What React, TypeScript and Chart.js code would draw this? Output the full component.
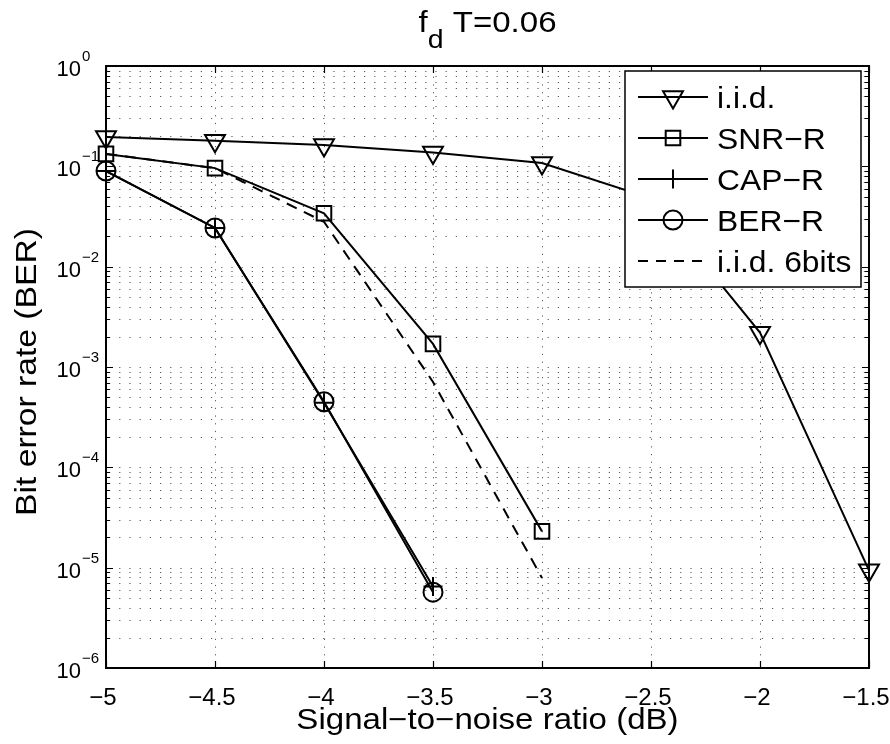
import React, { useEffect, useRef } from 'react';
import { Chart, registerables } from 'chart.js';

Chart.register(...registerables);

// ---------------- data ----------------
const snrIid = [-5, -4.5, -4, -3.5, -3, -2.5, -2, -1.5];
const berIid = [0.196, 0.18, 0.163, 0.137, 0.108, 0.048, 0.0022, 9.4e-6];

const snrSnrR = [-5, -4.5, -4, -3.5, -3];
const berSnrR = [0.133, 0.096, 0.034, 0.0017, 2.3e-5];

const snrCapR = [-5, -4.5, -4, -3.5];
const berCapR = [0.0898, 0.0243, 4.4e-4, 6.5e-6];

const snrBerR = [-5, -4.5, -4, -3.5];
const berBerR = [0.0898, 0.0243, 4.5e-4, 5.7e-6];

const snrIid6 = [-5, -4.5, -4, -3.5, -3];
const berIid6 = [0.133, 0.096, 0.028, 7.1e-4, 7.9e-6];

const seriesNames = ['i.i.d.', 'SNR\u2212R', 'CAP\u2212R', 'BER\u2212R', 'i.i.d. 6bits'];

const xTickValues = [-5, -4.5, -4, -3.5, -3, -2.5, -2, -1.5];
const xTickLabels = ['\u22125', '\u22124.5', '\u22124', '\u22123.5', '\u22123', '\u22122.5', '\u22122', '\u22121.5'];
const yDecadeExponents = [0, -1, -2, -3, -4, -5, -6];

const titleMain = 'f';
const titleSub = 'd';
const titleRest = ' T=0.06';
const xAxisTitle = 'Signal\u2212to\u2212noise ratio (dB)';
const yAxisTitle = 'Bit error rate (BER)';

const X_MIN = -5;
const X_MAX = -1.5;
const Y_MIN = 1e-6;
const Y_MAX = 1;

// --------------- helpers ---------------
const FONT = "'Liberation Sans', Arial, Helvetica, sans-serif";

const pts = (xs: number[], ys: number[]) => xs.map((x, i) => ({ x, y: ys[i] }));

function drawText(
  ctx: CanvasRenderingContext2D,
  text: string,
  x: number,
  y: number,
  size: number,
  align: CanvasTextAlign,
  sx = 1,
  rot = 0
) {
  ctx.save();
  ctx.translate(x, y);
  if (rot) ctx.rotate(rot);
  ctx.scale(sx, 1);
  ctx.font = `${size}px ${FONT}`;
  ctx.textAlign = align;
  ctx.textBaseline = 'alphabetic';
  ctx.fillStyle = '#000';
  ctx.fillText(text, 0, 0);
  ctx.restore();
}

function textWidth(ctx: CanvasRenderingContext2D, text: string, size: number, sx = 1) {
  ctx.save();
  ctx.font = `${size}px ${FONT}`;
  const w = ctx.measureText(text).width * sx;
  ctx.restore();
  return w;
}

function drawMarker(ctx: CanvasRenderingContext2D, kind: string, x: number, y: number) {
  ctx.save();
  ctx.strokeStyle = '#000';
  ctx.lineWidth = 2;
  ctx.setLineDash([]);
  ctx.beginPath();
  if (kind === 'tri') {
    const r = 11.5;
    const a = Math.PI; // pointing down
    for (let k = 0; k < 3; k++) {
      const ang = a + (k * 2 * Math.PI) / 3;
      const px = x + Math.sin(ang) * r;
      const py = y - Math.cos(ang) * r;
      if (k === 0) ctx.moveTo(px, py);
      else ctx.lineTo(px, py);
    }
    ctx.closePath();
  } else if (kind === 'rect') {
    const s = 7.3;
    ctx.rect(x - s, y - s, 2 * s, 2 * s);
  } else if (kind === 'cross') {
    const r = 9.5;
    ctx.moveTo(x, y - r);
    ctx.lineTo(x, y + r);
    ctx.moveTo(x - r, y);
    ctx.lineTo(x + r, y);
  } else if (kind === 'circle') {
    ctx.arc(x, y, 9.5, 0, Math.PI * 2);
  }
  ctx.stroke();
  ctx.restore();
}

const matlabPlugin = {
  id: 'matlabLook',
  beforeDatasetsDraw(chart: any) {
    const { ctx, chartArea: a, scales } = chart;
    const xs = scales.x;
    const ys = scales.y;
    ctx.save();
    ctx.lineWidth = 1;
    ctx.strokeStyle = 'rgba(0,0,0,0.65)';
    // horizontal dotted grid (major + minor log)
    ctx.setLineDash([1.2, 9]);
    for (const e of yDecadeExponents) {
      for (let m = 1; m <= 9; m++) {
        const v = m * Math.pow(10, e);
        if (v <= Y_MIN * 1.0001 || v >= Y_MAX * 0.9999) continue;
        const py = Math.round(ys.getPixelForValue(v)) + 0.5;
        ctx.beginPath();
        ctx.moveTo(a.left + 3, py);
        ctx.lineTo(a.right, py);
        ctx.stroke();
      }
    }
    // vertical dotted grid
    ctx.setLineDash([1.2, 6.5]);
    for (const v of xTickValues) {
      if (v === X_MIN || v === X_MAX) continue;
      const px = Math.round(xs.getPixelForValue(v)) + 0.5;
      ctx.beginPath();
      ctx.moveTo(px, a.top + 3);
      ctx.lineTo(px, a.bottom);
      ctx.stroke();
    }
    ctx.restore();
  },
  afterDatasetsDraw(chart: any) {
    const { ctx, chartArea: a, scales } = chart;
    const xs = scales.x;
    const ys = scales.y;
    ctx.save();
    ctx.strokeStyle = '#000';
    ctx.setLineDash([]);
    // ticks (inside, all four sides)
    ctx.lineWidth = 1.2;
    for (const v of xTickValues) {
      const px = Math.round(xs.getPixelForValue(v)) + 0.5;
      ctx.beginPath();
      ctx.moveTo(px, a.bottom);
      ctx.lineTo(px, a.bottom - 7);
      ctx.moveTo(px, a.top);
      ctx.lineTo(px, a.top + 7);
      ctx.stroke();
    }
    for (const e of yDecadeExponents) {
      for (let m = 1; m <= 9; m++) {
        const v = m * Math.pow(10, e);
        if (v < Y_MIN * 0.9999 || v > Y_MAX * 1.0001) continue;
        const len = m === 1 ? 7 : 4;
        const py = Math.round(ys.getPixelForValue(v)) + 0.5;
        ctx.beginPath();
        ctx.moveTo(a.left, py);
        ctx.lineTo(a.left + len, py);
        ctx.moveTo(a.right, py);
        ctx.lineTo(a.right - len, py);
        ctx.stroke();
      }
    }
    // frame
    ctx.lineWidth = 2;
    ctx.strokeRect(a.left, a.top, a.right - a.left, a.bottom - a.top);

    // legend
    const lx0 = a.right - 244;
    const lx1 = a.right - 8;
    const ly0 = a.top + 5;
    const ly1 = a.top + 221;
    ctx.fillStyle = '#fff';
    ctx.fillRect(lx0, ly0, lx1 - lx0, ly1 - ly0);
    ctx.lineWidth = 1.5;
    ctx.strokeRect(lx0, ly0, lx1 - lx0, ly1 - ly0);
    const markers = ['tri', 'rect', 'cross', 'circle', 'none'];
    seriesNames.forEach((name, i) => {
      const cy = ly0 + 26 + i * 41;
      ctx.save();
      ctx.lineWidth = 2;
      ctx.strokeStyle = '#000';
      ctx.setLineDash(i === 4 ? [10, 8] : []);
      ctx.beginPath();
      ctx.moveTo(lx0 + 13, cy);
      ctx.lineTo(lx0 + 83, cy);
      ctx.stroke();
      ctx.restore();
      if (markers[i] !== 'none') drawMarker(ctx, markers[i], lx0 + 48, cy);
      drawText(ctx, name, lx0 + 92, cy + 11, 30, 'left', 1.06);
    });
    ctx.restore();
  },
  afterDraw(chart: any) {
    const { ctx, chartArea: a, scales } = chart;
    const xs = scales.x;
    const ys = scales.y;
    // x tick labels
    xTickValues.forEach((v, i) => {
      const px = xs.getPixelForValue(v);
      drawText(ctx, xTickLabels[i], px - 3, a.bottom + 37, 24, 'center', 1.0);
    });
    // y tick labels 10^k
    for (const e of yDecadeExponents) {
      const py = ys.getPixelForValue(Math.pow(10, e));
      drawText(ctx, '10', a.left - 25, py + 10, 22, 'right');
      const ex = e === 0 ? '0' : '\u2212' + String(-e);
      drawText(ctx, ex, a.left - 24, py - 5, 15, 'left');
    }
    // x axis title
    const cx = (a.left + a.right) / 2;
    drawText(ctx, xAxisTitle, cx, a.bottom + 61, 29, 'center', 1.14);
    // y axis title
    const cy = (a.top + a.bottom) / 2 + 5;
    drawText(ctx, yAxisTitle, 36, cy, 29, 'center', 1.16, -Math.PI / 2);
    // title with subscript
    const sMain = 29;
    const sSub = 25;
    const sx = 1.14;
    const w1 = textWidth(ctx, titleMain, sMain, sx);
    const w2 = textWidth(ctx, titleSub, sSub, sx);
    const w3 = textWidth(ctx, titleRest, sMain, sx);
    let tx = cx - (w1 + w2 + w3) / 2;
    const tb = 32;
    drawText(ctx, titleMain, tx, tb, sMain, 'left', sx);
    tx += w1;
    drawText(ctx, titleSub, tx, tb + 16, sSub, 'left', sx);
    tx += w2;
    drawText(ctx, titleRest, tx, tb, sMain, 'left', sx);
  },
};

export default function App() {
  const canvasRef = useRef<HTMLCanvasElement | null>(null);

  useEffect(() => {
    document.body.style.margin = '0';
    const canvas = canvasRef.current;
    if (!canvas) return;
    const common = {
      borderColor: '#000',
      borderWidth: 2,
      pointBorderColor: '#000',
      pointBackgroundColor: 'rgba(0,0,0,0)',
      pointBorderWidth: 2,
      fill: false,
      tension: 0,
      clip: false as any,
    };
    const chart = new Chart(canvas, {
      type: 'line',
      data: {
        datasets: [
          { ...common, label: seriesNames[4], data: pts(snrIid6, berIid6), borderDash: [11, 8], pointRadius: 0 },
          { ...common, label: seriesNames[0], data: pts(snrIid, berIid), pointStyle: 'triangle', pointRotation: 180, pointRadius: 11.5 },
          { ...common, label: seriesNames[1], data: pts(snrSnrR, berSnrR), pointStyle: 'rect', pointRadius: 10.3 },
          { ...common, label: seriesNames[2], data: pts(snrCapR, berCapR), pointStyle: 'cross', pointRadius: 9.5 },
          { ...common, label: seriesNames[3], data: pts(snrBerR, berBerR), pointStyle: 'circle', pointRadius: 9.5 },
        ],
      },
      options: {
        responsive: false,
        animation: false,
        events: [],
        layout: { padding: { left: 106, top: 66, right: 21, bottom: 76 } },
        plugins: { legend: { display: false }, title: { display: false }, tooltip: { enabled: false } },
        scales: {
          x: { type: 'linear', min: X_MIN, max: X_MAX, display: false },
          y: { type: 'logarithmic', min: Y_MIN, max: Y_MAX, display: false },
        },
      },
      plugins: [matlabPlugin],
    });
    return () => chart.destroy();
  }, []);

  return (
    <div style={{ width: 890, height: 744, background: '#fff' }}>
      <canvas ref={canvasRef} width={890} height={744} style={{ display: 'block', width: 890, height: 744 }} />
    </div>
  );
}
